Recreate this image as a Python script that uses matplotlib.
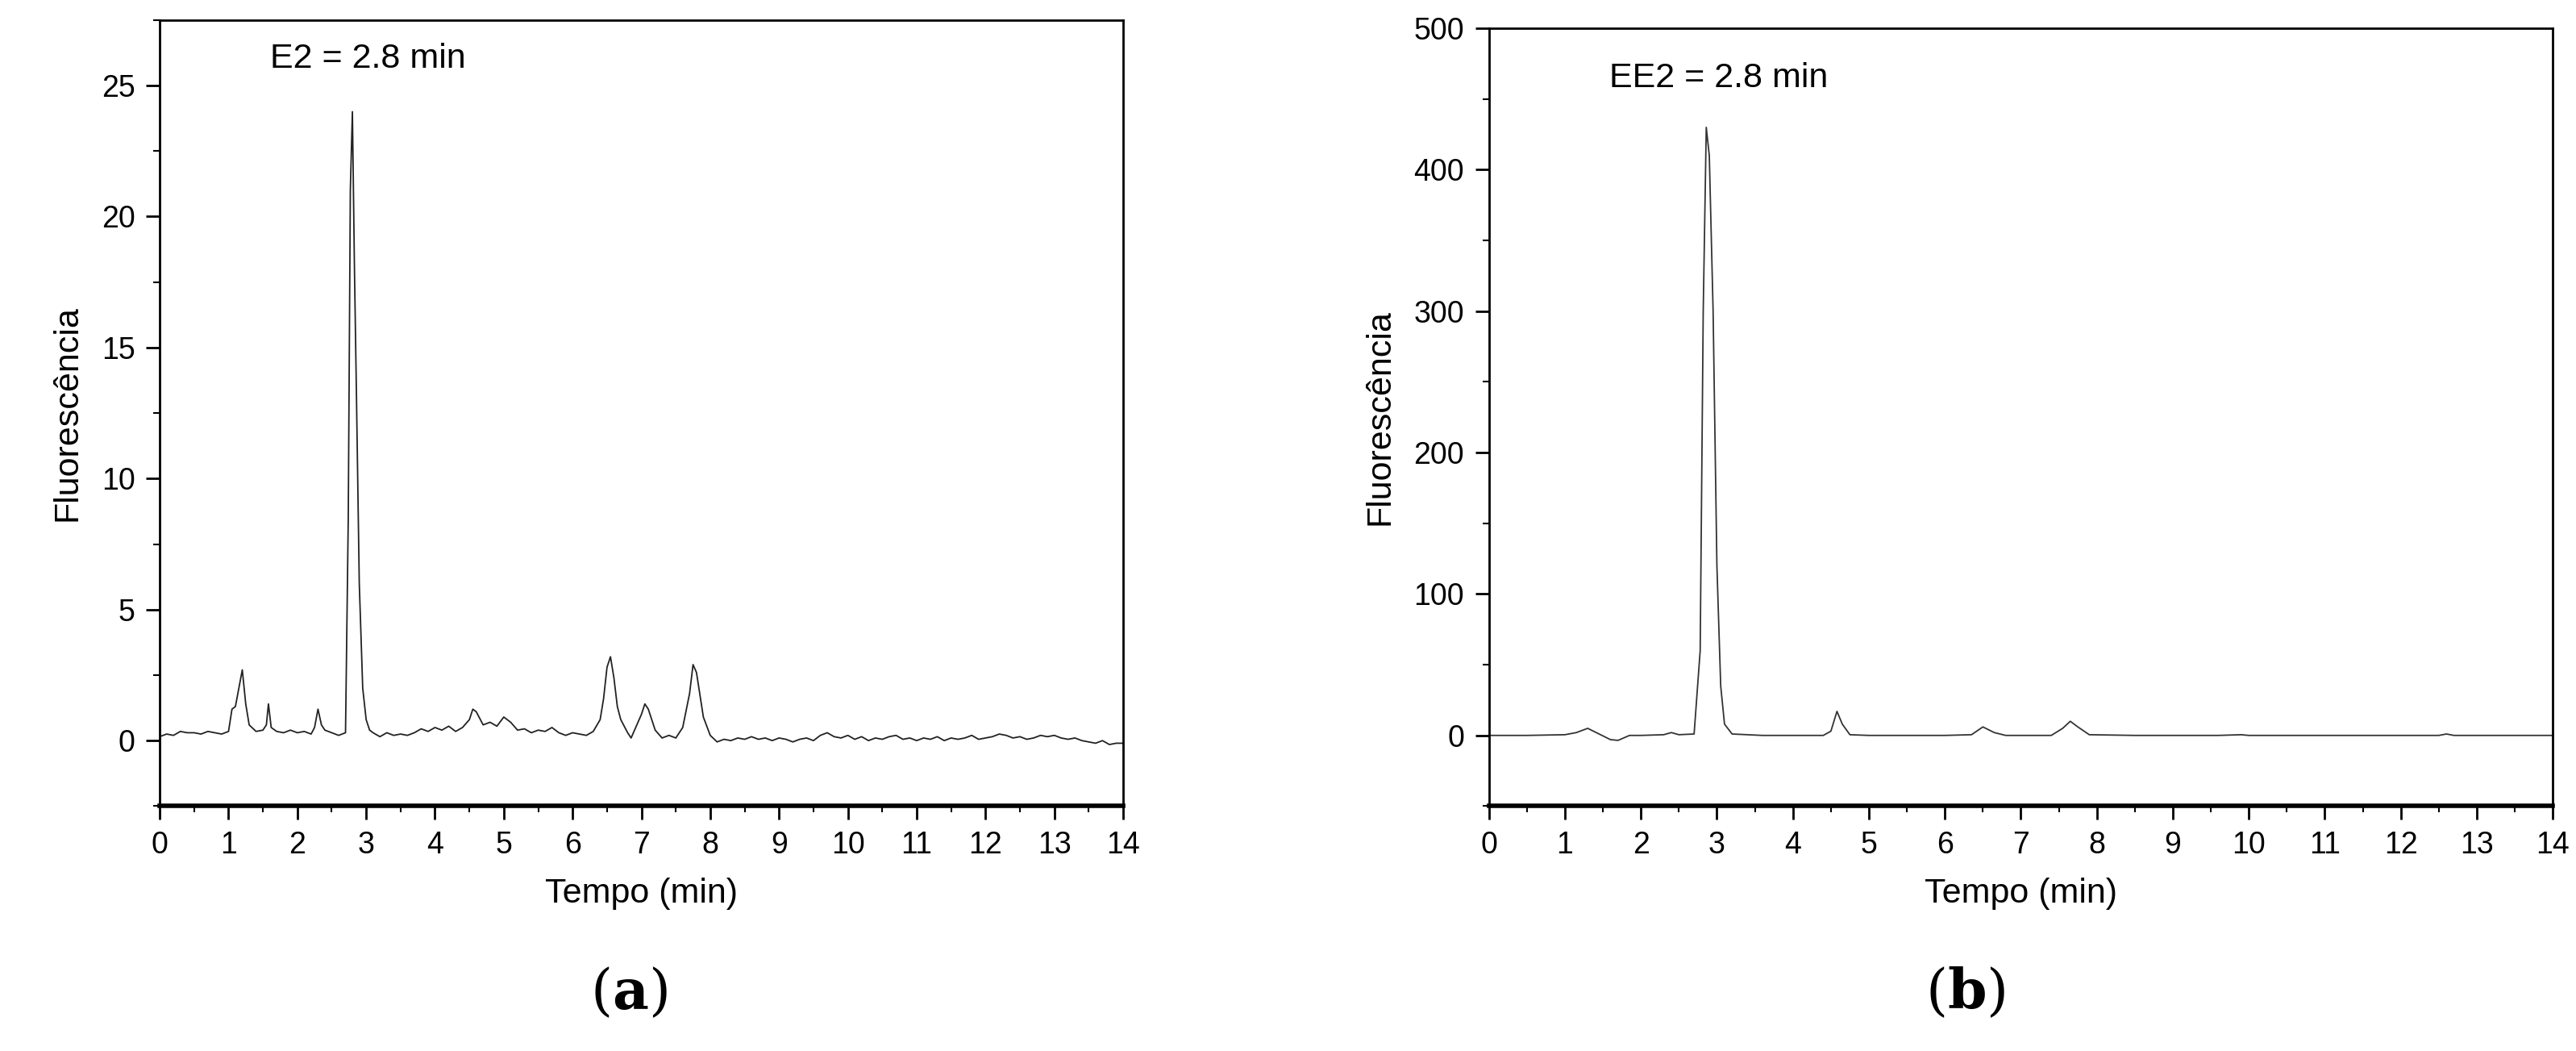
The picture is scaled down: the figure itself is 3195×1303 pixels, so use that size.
import matplotlib.pyplot as plt
import numpy as np
from matplotlib.ticker import MultipleLocator

plt.rcParams['font.family'] = ['Liberation Sans', 'DejaVu Sans']
plt.rcParams['mathtext.fontset'] = 'dejavuserif'

# panel (a) E2 chromatogram, read by eye
t_a = [0.0, 0.1, 0.2, 0.3, 0.4, 0.5, 0.6, 0.7, 0.8, 0.9, 1.0, 1.05, 1.1, 1.15, 1.2, 1.25, 1.3, 1.4,
       1.5, 1.55, 1.58, 1.62, 1.7, 1.8, 1.9, 2.0, 2.1, 2.2, 2.25, 2.3, 2.35, 2.4, 2.5, 2.6, 2.7, 2.74,
       2.77, 2.8, 2.83, 2.86, 2.9, 2.95, 3.0, 3.05, 3.1, 3.2, 3.3, 3.4, 3.5, 3.6, 3.7, 3.8, 3.9, 4.0,
       4.1, 4.2, 4.3, 4.4, 4.5, 4.55, 4.6, 4.7, 4.8, 4.9, 5.0, 5.1, 5.2, 5.3, 5.4, 5.5, 5.6, 5.7,
       5.8, 5.9, 6.0, 6.1, 6.2, 6.3, 6.4, 6.45, 6.5, 6.55, 6.6, 6.65, 6.7, 6.8, 6.85, 6.9, 7.0, 7.05,
       7.1, 7.2, 7.3, 7.4, 7.5, 7.6, 7.7, 7.75, 7.8, 7.9, 8.0, 8.1, 8.2, 8.3, 8.4, 8.5, 8.6, 8.7,
       8.8, 8.9, 9.0, 9.1, 9.2, 9.3, 9.4, 9.5, 9.6, 9.7, 9.8, 9.9, 10.0, 10.1, 10.2, 10.3, 10.4,
       10.5, 10.6, 10.7, 10.8, 10.9, 11.0, 11.1, 11.2, 11.3, 11.4, 11.5, 11.6, 11.7, 11.8, 11.9,
       12.0, 12.1, 12.2, 12.3, 12.4, 12.5, 12.6, 12.7, 12.8, 12.9, 13.0, 13.1, 13.2, 13.3, 13.4,
       13.5, 13.6, 13.7, 13.8, 13.9, 14.0]
y_a = [0.15, 0.25, 0.2, 0.35, 0.3, 0.3, 0.25, 0.35, 0.3, 0.25, 0.35, 1.2, 1.3, 2.0, 2.7, 1.4, 0.6, 0.35,
       0.4, 0.6, 1.4, 0.5, 0.35, 0.3, 0.4, 0.3, 0.35, 0.25, 0.5, 1.2, 0.6, 0.4, 0.3, 0.2, 0.3, 8.5,
       21.0, 24.0, 18.0, 13.0, 6.0, 2.0, 0.8, 0.4, 0.3, 0.15, 0.3, 0.2, 0.25, 0.2, 0.3, 0.45, 0.35,
       0.5, 0.4, 0.55, 0.35, 0.5, 0.8, 1.2, 1.1, 0.6, 0.7, 0.55, 0.9, 0.7, 0.4, 0.45, 0.3, 0.4,
       0.35, 0.5, 0.3, 0.2, 0.3, 0.25, 0.2, 0.35, 0.8, 1.6, 2.8, 3.2, 2.4, 1.3, 0.8, 0.3, 0.1, 0.4,
       1.0, 1.4, 1.2, 0.4, 0.1, 0.2, 0.1, 0.5, 1.8, 2.9, 2.6, 0.9, 0.2, -0.05, 0.05, 0.0, 0.1, 0.05,
       0.15, 0.05, 0.1, 0.0, 0.1, 0.05, -0.05, 0.05, 0.1, 0.0, 0.2, 0.3, 0.15, 0.1, 0.2, 0.05,
       0.15, 0.0, 0.1, 0.05, 0.15, 0.2, 0.05, 0.1, 0.0, 0.1, 0.05, 0.15, 0.0, 0.1, 0.05, 0.1, 0.2,
       0.05, 0.1, 0.15, 0.25, 0.2, 0.1, 0.15, 0.05, 0.1, 0.2, 0.15, 0.2, 0.1, 0.05, 0.1, 0.0,
       -0.05, -0.1, 0.0, -0.15, -0.1, -0.1]

# panel (b) EE2 chromatogram
t_b = [0.0, 0.5, 1.0, 1.15, 1.3, 1.45, 1.6, 1.7, 1.85, 2.0, 2.3, 2.4, 2.5, 2.7, 2.78, 2.82, 2.86,
       2.9, 2.95, 3.0, 3.05, 3.1, 3.2, 3.4, 3.6, 4.0, 4.4, 4.5, 4.58, 4.65, 4.75, 5.0, 6.0, 6.35,
       6.5, 6.65, 6.8, 7.4, 7.55, 7.65, 7.75, 7.9, 8.5, 9.6, 9.9, 10.0, 12.5, 12.6, 12.7, 14.0]
y_b = [0.0, 0.0, 0.5, 2.0, 5.0, 1.0, -3.0, -3.5, 0.0, 0.0, 0.5, 2.0, 0.5, 1.0, 60.0, 300.0, 430.0,
       410.0, 300.0, 120.0, 35.0, 8.0, 1.0, 0.5, 0.0, 0.0, 0.0, 3.0, 17.0, 8.0, 0.5, 0.0, 0.0, 0.5,
       6.0, 2.0, 0.0, 0.0, 5.0, 10.0, 6.0, 0.5, 0.0, 0.0, 0.5, 0.0, 0.0, 1.0, 0.0, 0.0]

fig = plt.figure(figsize=(31.95, 13.03), dpi=100)
ax1 = fig.add_axes([0.062, 0.233, 0.374, 0.748])
ax2 = fig.add_axes([0.578, 0.233, 0.413, 0.74])

ax1.plot(t_a, y_a, color='#222222', lw=1.3)
ax2.plot(t_b, y_b, color='#333333', lw=1.3)

ax1.set_ylim(-2.5, 27.5)
ax1.yaxis.set_major_locator(MultipleLocator(5))
ax1.yaxis.set_minor_locator(MultipleLocator(2.5))
ax2.set_ylim(-50, 500)
ax2.yaxis.set_major_locator(MultipleLocator(100))
ax2.yaxis.set_minor_locator(MultipleLocator(50))

for ax in (ax1, ax2):
    ax.set_xlim(0, 14)
    ax.xaxis.set_major_locator(MultipleLocator(1))
    ax.xaxis.set_minor_locator(MultipleLocator(0.5))
    ax.tick_params(which='major', direction='out', length=12, width=2, labelsize=27, pad=10)
    ax.tick_params(which='minor', direction='out', length=6, width=1.5)
    ax.set_xlabel('Tempo (min)', fontsize=31, labelpad=16)
    ax.set_ylabel('Fluorescência', fontsize=31, labelpad=16)
    for s in ax.spines.values():
        s.set_linewidth(2)
    ax.spines['bottom'].set_linewidth(4)

ax1.text(1.6, 26.0, 'E2 = 2.8 min', fontsize=31, va='center')
ax2.text(1.58, 465, 'EE2 = 2.8 min', fontsize=31, va='center')

fig.text(0.244, 0.055, r'($\mathbf{a}$)', fontsize=50, family='DejaVu Serif', ha='center', va='center')
fig.text(0.763, 0.055, r'($\mathbf{b}$)', fontsize=50, family='DejaVu Serif', ha='center', va='center')

fig.savefig('out.png', dpi=100)
